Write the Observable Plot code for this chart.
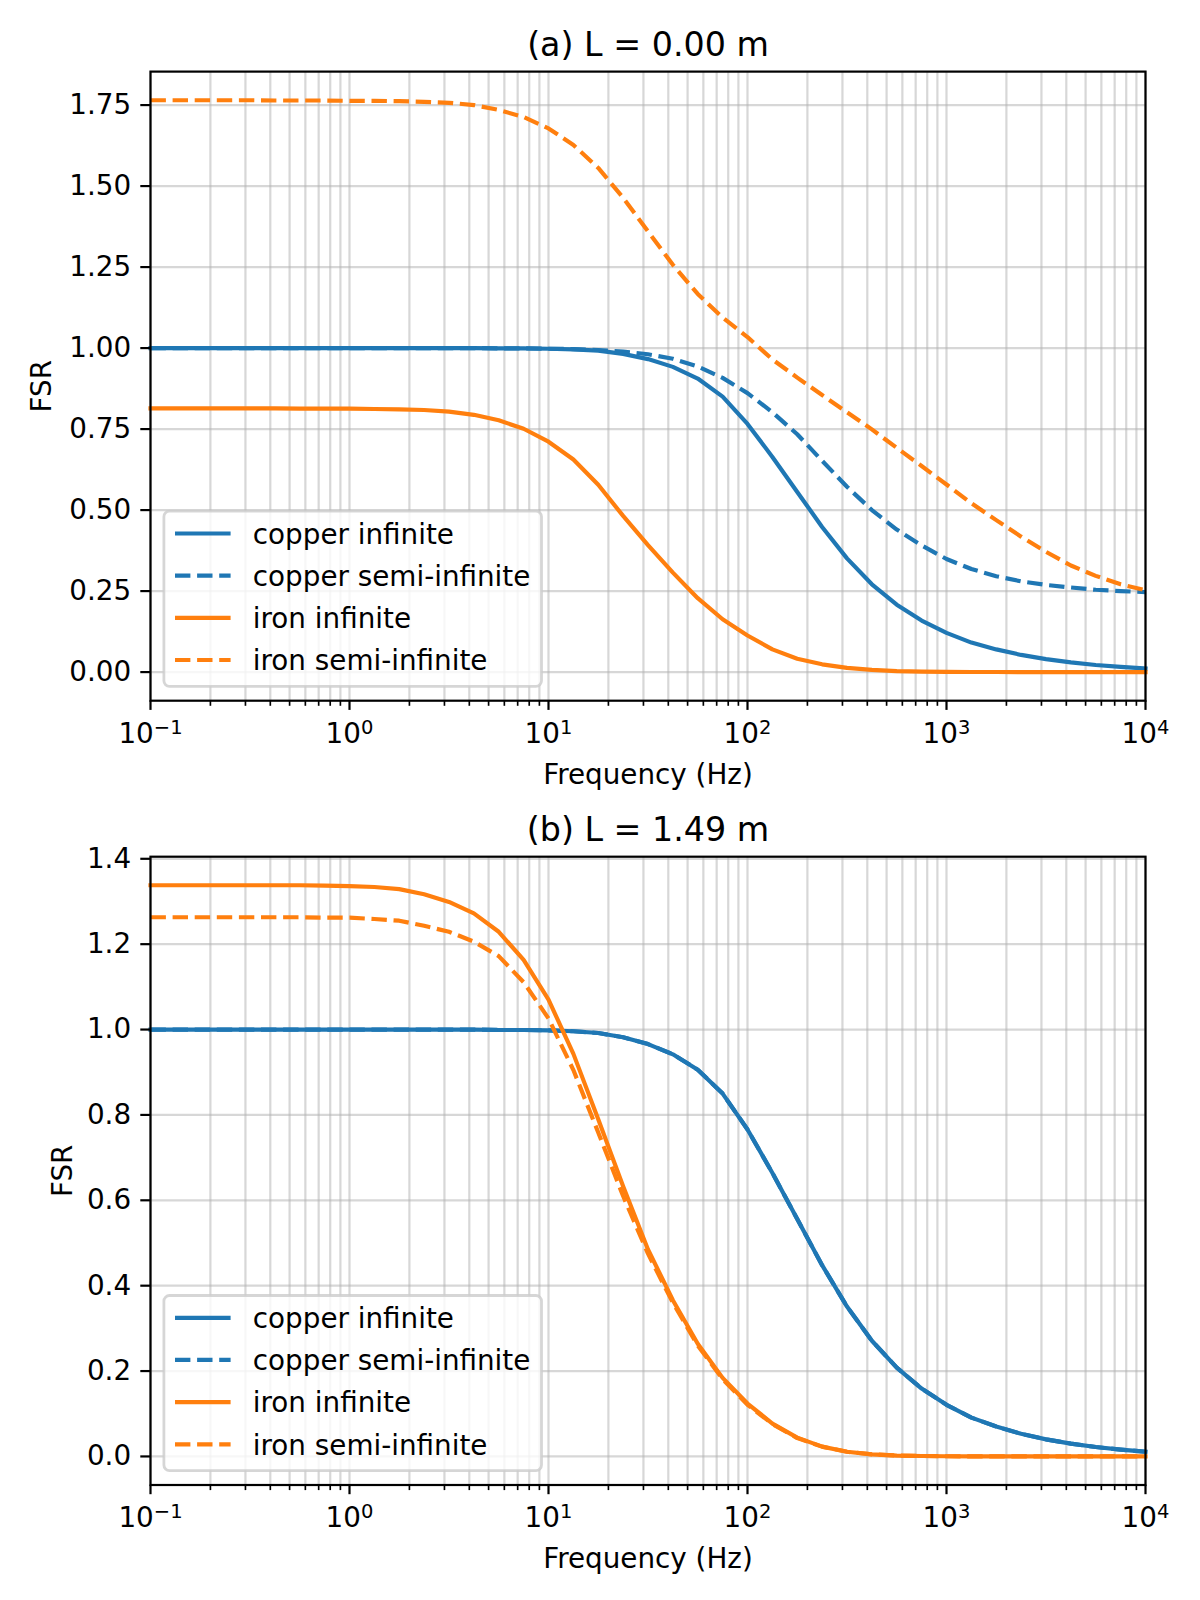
<!DOCTYPE html>
<html>
<head>
<meta charset="utf-8">
<script src="https://cdn.jsdelivr.net/npm/d3@7"></script>
<script src="https://cdn.jsdelivr.net/npm/@observablehq/plot@0.6"></script>
<style>
  body { margin: 0; background: #fff; }
  #chart { width: 1200px; height: 1600px; }
  #chart svg { display: block; }
</style>
</head>
<body>
<div id="chart"></div>
<script>
// Frequencies (Hz), log-spaced sample points
const freq = [0.1, 0.1334, 0.1778, 0.2371, 0.3162, 0.4217, 0.5623, 0.7499,
  1, 1.334, 1.778, 2.371, 3.162, 4.217, 5.623, 7.499,
  10, 13.34, 17.78, 23.71, 31.62, 42.17, 56.23, 74.99,
  100, 133.4, 177.8, 237.1, 316.2, 421.7, 562.3, 749.9,
  1000, 1334, 1778, 2371, 3162, 4217, 5623, 7499, 10000];

// (a) L = 0.00 m
const copperInfiniteA = [1.000, 1.000, 1.000, 1.000, 1.000, 1.000, 1.000, 1.000,
  1.000, 1.000, 1.000, 1.000, 1.000, 1.000, 0.999, 0.999,
  0.998, 0.996, 0.992, 0.982, 0.966, 0.942, 0.906, 0.850,
  0.766, 0.664, 0.556, 0.448, 0.351, 0.271, 0.208, 0.159,
  0.121, 0.091, 0.070, 0.053, 0.040, 0.030, 0.022, 0.016, 0.011];
const copperSemiA = [1.000, 1.000, 1.000, 1.000, 1.000, 1.000, 1.000, 1.000,
  1.000, 1.000, 1.000, 1.000, 1.000, 1.000, 0.999, 0.999,
  0.998, 0.997, 0.994, 0.989, 0.981, 0.967, 0.943, 0.908,
  0.861, 0.802, 0.734, 0.652, 0.572, 0.500, 0.440, 0.391,
  0.349, 0.318, 0.296, 0.280, 0.269, 0.261, 0.254, 0.250, 0.247];
const ironInfiniteA = [0.814, 0.814, 0.814, 0.814, 0.814, 0.814, 0.813, 0.813,
  0.813, 0.812, 0.811, 0.809, 0.804, 0.794, 0.777, 0.751,
  0.711, 0.656, 0.578, 0.482, 0.392, 0.307, 0.228, 0.163,
  0.113, 0.070, 0.041, 0.024, 0.013, 0.007, 0.003, 0.0015,
  0.0007, 0.0003, 0.0002, 0.0001, 0, 0, 0, 0, 0];
const ironSemiA = [1.765, 1.765, 1.765, 1.765, 1.765, 1.764, 1.764, 1.764,
  1.763, 1.763, 1.762, 1.760, 1.757, 1.750, 1.735, 1.713,
  1.678, 1.627, 1.556, 1.464, 1.360, 1.257, 1.167, 1.094,
  1.034, 0.965, 0.909, 0.855, 0.802, 0.749, 0.692, 0.636,
  0.579, 0.521, 0.469, 0.418, 0.371, 0.329, 0.297, 0.271, 0.253];

// (b) L = 1.49 m
const copperInfiniteB = [1.000, 1.000, 1.000, 1.000, 1.000, 1.000, 1.000, 1.000,
  1.000, 1.000, 1.000, 1.000, 1.000, 1.000, 0.999, 0.999,
  0.998, 0.996, 0.992, 0.982, 0.966, 0.942, 0.906, 0.850,
  0.766, 0.664, 0.556, 0.448, 0.351, 0.271, 0.208, 0.159,
  0.121, 0.091, 0.070, 0.053, 0.040, 0.030, 0.022, 0.016, 0.011];
const copperSemiB = [1.000, 1.000, 1.000, 1.000, 1.000, 1.000, 1.000, 1.000,
  1.000, 1.000, 1.000, 1.000, 1.000, 1.000, 0.999, 0.999,
  0.998, 0.996, 0.992, 0.982, 0.966, 0.942, 0.906, 0.850,
  0.766, 0.664, 0.556, 0.448, 0.351, 0.271, 0.208, 0.159,
  0.121, 0.091, 0.070, 0.053, 0.040, 0.030, 0.022, 0.016, 0.011];
const ironInfiniteB = [1.338, 1.338, 1.338, 1.338, 1.338, 1.338, 1.338, 1.337,
  1.336, 1.334, 1.329, 1.317, 1.299, 1.272, 1.229, 1.163,
  1.070, 0.943, 0.790, 0.633, 0.485, 0.366, 0.264, 0.184,
  0.124, 0.077, 0.044, 0.023, 0.011, 0.005, 0.002, 0.001,
  0.0005, 0.0002, 0.0001, 0, 0, 0, 0, 0, 0];
const ironSemiB = [1.263, 1.263, 1.263, 1.263, 1.263, 1.263, 1.263, 1.262,
  1.262, 1.259, 1.255, 1.243, 1.229, 1.206, 1.172, 1.111,
  1.026, 0.905, 0.759, 0.610, 0.475, 0.360, 0.260, 0.181,
  0.121, 0.076, 0.043, 0.023, 0.011, 0.005, 0.002, 0.001,
  0.0005, 0.0002, 0.0001, 0, 0, 0, 0, 0, 0];

const seriesNames = ["copper infinite", "copper semi-infinite", "iron infinite", "iron semi-infinite"];
const seriesColors = ["#1f77b4", "#1f77b4", "#ff7f0e", "#ff7f0e"];
const seriesDashed = [false, true, false, true];

const xMajorTicks = [0.1, 1, 10, 100, 1000, 10000];
const xMajorExponents = ["\u22121", "0", "1", "2", "3", "4"];
const xMinorTicks = [0.2, 0.3, 0.4, 0.5, 0.6, 0.7, 0.8, 0.9,
  2, 3, 4, 5, 6, 7, 8, 9, 20, 30, 40, 50, 60, 70, 80, 90,
  200, 300, 400, 500, 600, 700, 800, 900, 2000, 3000, 4000, 5000, 6000, 7000, 8000, 9000];
const yTicksA = [0, 0.25, 0.5, 0.75, 1.0, 1.25, 1.5, 1.75];
const yTicksB = [0, 0.2, 0.4, 0.6, 0.8, 1.0, 1.2, 1.4];

const FONT = "DejaVu Sans";
const FS = 27.8;
const LW = 4.17;

function panel(opts) {
  const { height, marginTop, marginBottom, yDomain, yTicks, yFmt, values, title, ylabelDx } = opts;
  const rows = [];
  values.forEach((arr, k) => {
    arr.forEach((v, i) => rows.push({ f: freq[i], v, s: k }));
  });
  const lineMarks = values.map((arr, k) =>
    Plot.line(rows.filter(d => d.s === k), {
      x: "f", y: "v",
      stroke: seriesColors[k],
      strokeWidth: LW,
      strokeDasharray: seriesDashed[k] ? "15.4,6.7" : null,
      strokeLinecap: seriesDashed[k] ? "butt" : "square",
      strokeLinejoin: "round"
    })
  );
  const svg = Plot.plot({
    width: 1200,
    height,
    marginLeft: 150,
    marginRight: 55,
    marginTop,
    marginBottom,
    style: { fontFamily: FONT, fontSize: FS + "px", color: "black", background: "white", overflow: "visible" },
    x: { type: "log", domain: [0.1, 10000], label: null },
    y: { domain: yDomain, label: null },
    marks: [
      Plot.gridX({ ticks: xMajorTicks.concat(xMinorTicks), stroke: "#b0b0b0", strokeOpacity: 0.5, strokeWidth: 2.2 }),
      Plot.gridY({ ticks: yTicks, stroke: "#b0b0b0", strokeOpacity: 0.5, strokeWidth: 2.2 }),
      ...lineMarks,
      Plot.frame({ stroke: "black", strokeWidth: 2.2 }),
      Plot.axisX({ ticks: xMinorTicks, tickSize: 5.6, strokeWidth: 1.67, tickFormat: () => "", label: null }),
      Plot.axisX({ ticks: xMajorTicks, tickSize: 9.7, tickPadding: 12.4, strokeWidth: 2.2,
        tickFormat: d => "10^" + xMajorExponents[xMajorTicks.indexOf(d)], fontSize: FS, label: null }),
      Plot.axisY({ ticks: yTicks, tickSize: 9.7, tickPadding: 9.7, strokeWidth: 2.2,
        tickFormat: yFmt, fontSize: FS, label: null }),
      Plot.text([title], { text: d => d, frameAnchor: "top", lineAnchor: "middle", textAnchor: "middle", dy: -26.2, fontSize: 33.3 }),
      Plot.text(["Frequency (Hz)"], { text: d => d, frameAnchor: "bottom", lineAnchor: "middle", textAnchor: "middle", dy: 74.4, fontSize: FS }),
      Plot.text(["FSR"], { text: d => d, frameAnchor: "left", lineAnchor: "middle", textAnchor: "middle", dx: ylabelDx, rotate: -90, fontSize: FS })
    ]
  });

  // Matplotlib-like superscript tick labels: 10^e
  d3.select(svg).selectAll("text").each(function () {
    const t = this.textContent;
    const m = /^10\^(.+)$/.exec(t);
    if (!m) return;
    const sel = d3.select(this);
    sel.text("10");
    sel.append("tspan").attr("dy", -8.5).attr("font-size", (FS * 0.7).toFixed(1) + "px").text(m[1]);
  });

  // Legend (lower left, matplotlib style)
  const frameBottom = height - marginBottom;
  const g = d3.select(svg).append("g")
    .attr("font-family", FONT).attr("font-size", FS).attr("text-anchor", "start");
  const boxLeft = 163.9, boxRight = 541.5;
  const boxTop = frameBottom - 189, boxBottom = frameBottom - 13.9;
  g.append("rect")
    .attr("x", boxLeft).attr("y", boxTop)
    .attr("width", boxRight - boxLeft).attr("height", boxBottom - boxTop)
    .attr("rx", 5.6).attr("ry", 5.6)
    .attr("fill", "white").attr("fill-opacity", 0.8)
    .attr("stroke", "#cccccc").attr("stroke-opacity", 0.8).attr("stroke-width", 2.8);
  const rowOffsets = [166.7, 124.6, 82.4, 40.2];
  seriesNames.forEach((name, k) => {
    const cy = frameBottom - rowOffsets[k];
    g.append("line")
      .attr("x1", 175).attr("x2", 230.6).attr("y1", cy).attr("y2", cy)
      .attr("stroke", seriesColors[k]).attr("stroke-width", LW)
      .attr("stroke-dasharray", seriesDashed[k] ? "15.4,6.7" : null)
      .attr("stroke-linecap", "butt");
    g.append("text")
      .attr("x", 252.8).attr("y", cy + 10.3)
      .attr("text-anchor", "start")
      .attr("fill", "black")
      .text(name);
  });
  return svg;
}

const chart = document.getElementById("chart");
chart.appendChild(panel({
  height: 780, marginTop: 71.1, marginBottom: 79.8,
  yDomain: [-0.0883, 1.8533], yTicks: yTicksA, yFmt: d3.format(".2f"),
  values: [copperInfiniteA, copperSemiA, ironInfiniteA, ironSemiA],
  title: "(a) L = 0.00 m", ylabelDx: -108
}));
chart.appendChild(panel({
  height: 820, marginTop: 76.2, marginBottom: 115.5,
  yDomain: [-0.0669, 1.4049], yTicks: yTicksB, yFmt: d3.format(".1f"),
  values: [copperInfiniteB, copperSemiB, ironInfiniteB, ironSemiB],
  title: "(b) L = 1.49 m", ylabelDx: -87
}));
</script>
</body>
</html>
